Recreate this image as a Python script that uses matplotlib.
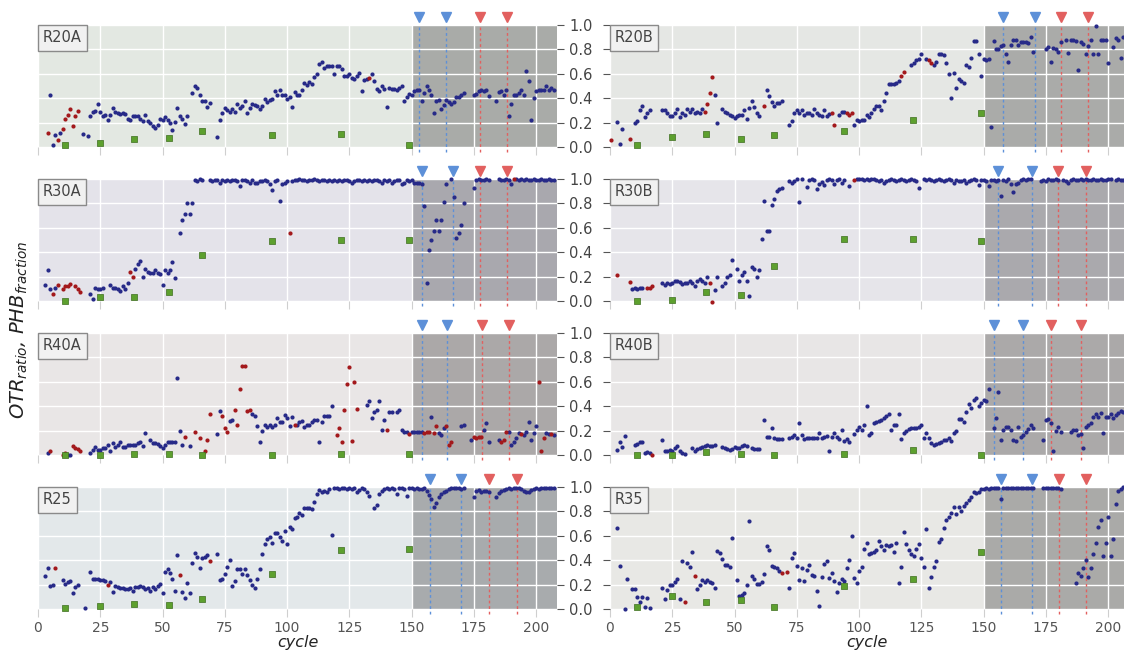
import numpy as np
import matplotlib
matplotlib.use('Agg')
import matplotlib.pyplot as plt

N = None

# ---------------- data (OTR ratio, one value per cycle starting at cycle 1) -------------
r20a_otr = [
    N, N, N, N, .43, .02, .095, N, .115, N,
    N, N, N, N, N, N, N, .11, N, .09,
    .25, .29, .295, .35, .29, .255, .265, .22, .26, .32,
    .285, .28, .27, .275, .27, .23, .225, .25, .255, .25,
    .23, .215, .26, .215, .2, .17, .155, .18, .23, .225,
    .245, .225, .2, .14, .205, .32, .255, .23, .185, .255,
    N, .44, .5, .485, .43, .375, .375, .33, .36, N,
    N, .08, .225, .28, .32, .305, .29, .315, .285, .35,
    .32, .34, .38, .28, .32, .35, .345, .335, .315, .335,
    .39, .365, .385, .395, .455, .425, .47, .425, .425, .39,
    .41, .33, .45, .425, .425, .47, .525, .505, .535, .515,
    .575, .6, .68, .695, .65, .66, .66, .665, .595, .665,
    .665, .64, .58, .58, .595, .565, .555, .58, .61, .46,
    .55, .555, N, .595, .54, .475, .46, .5, .475, .33,
    .48, .475, .475, .47, .48, .5, .375, .41, .435, .43,
    .46, .465, .47, .38, .445, .5, .465, .425, .28, .375,
    .385, .31, .345, .385, .37, .35, .37, .41, .41, .43,
    .44, N, N, N, .425, .435, .46, .465, .46, .465,
    .42, N, N, .38, .45, .46, .425, .47, .255, .35,
    .43, .43, .445, .47, .43, .62, .54, .225, .405, .46,
    .465, .465, .465, .5, .465, .48, .465]
r20a_red_x = [4, 8, 10, 11, 12, 13, 14, 15, 16, 133]
r20a_red_y = [.115, .06, .15, .23, .265, .31, .175, .25, .295, .565]
r20a_phb = [.02, .03, .065, .075, .135, .1, .11, .02]

r20b_otr = [
    N, N, .205, .027, .145, N, N, N, N, .2,
    .21, .305, .34, .245, .28, .3, N, N, N, N,
    .305, .305, .28, .25, .25, .28, .31, .245, .275, .26,
    .315, .285, .315, .275, .285, .28, .315, N, N, N,
    N, .43, .2, N, .31, .285, .275, .26, .25, .24,
    .25, .26, .265, .305, .23, .32, .38, .33, .275, .25,
    N, N, .465, .415, .37, .335, .36, .36, .375, N,
    N, .18, .215, .275, .3, .275, .305, .26, .275, .28,
    .265, .31, .28, .26, .25, .305, .255, .27, N, N,
    N, .265, .29, .29, N, N, N, .18, .225, .215,
    .225, .22, .26, .245, .28, .31, .34, .335, .3, .38,
    .44, .52, .515, .52, .525, .54, N, N, N, N,
    .675, .69, .71, .725, .76, N, .72, N, N, .67,
    .695, .76, .765, .75, .685, .595, .405, .605, .48, .555,
    .545, .525, .675, .655, .73, .87, .865, .76, .585, .725,
    .715, .725, .165, .865, .805, .805, .825, .84, .76, .695,
    .84, .875, .875, .84, .86, .86, .86, .855, .9, .78,
    N, N, N, N, .805, .82, .7, .81, .805, .78,
    .86, N, .88, .77, .88, .875, .87, .635, .86, .845,
    .765, .825, .875, .765, .995, .765, .875, .875, .875, .685,
    N, .82, .895, .875, .73, .9]
r20b_red_x = [0.3, 8, 38, 39, 40, 41, 62, 89, 90, 95, 96, 97, 117, 118, 128, 129]
r20b_red_y = [.055, .065, .29, .35, .44, .575, .34, .28, .18, .28, .26, .28, .58, .615, .71, .69]
r20b_phb = [.015, .085, .105, .065, .095, .135, .225, .28]

r30a_otr = [
    N, N, .13, .25, .1, N, .11, N, N, N,
    N, N, N, N, N, N, N, N, N, N,
    .06, .02, .11, .1, .1, .11, N, N, .13, .11,
    .11, .1, .08, .12, .1, .145, N, N, .26, .3,
    .33, .2, .26, .24, .23, .23, .25, .23, .22, .13,
    .25, .23, .25, .32, .19, N, .56, .66, .71, .8,
    .71, .8, .99, .98, 1.0, .99, N, N, .99, .98,
    .99, .99, .97, .99, .98, .99, .98, .99, .99, .98,
    .94, .99, .99, .98, .97, .99, .97, .97, .98, .98,
    .99, .98, .96, .91, .98, .99, .82, .96, .97, .98,
    N, .98, .99, .99, 1.0, .99, .99, .98, .99, .99,
    1.0, .99, .98, .99, .99, .98, .99, .98, .99, .98,
    .99, .98, .99, .99, .98, .97, .98, .99, .99, .98,
    .99, .98, .99, .98, .99, .99, .98, .97, .99, .98,
    .99, .97, .98, .99, .99, .96, .97, .99, .98, .99,
    .97, .97, .97, .96, .78, .15, .42, .5, .57, .66,
    .575, .66, .81, .96, N, 1.0, .855, .52, .56, .62,
    .8, N, N, N, .93, .99, 1.0, .99, .99, 1.0,
    .99, N, N, N, 1.0, .99, .99, 1.0, .99, .96,
    N, 1.0, .99, 1.0, .99, 1.0, .99, .99, 1.0, .99,
    .99, 1.0, .99, .99, 1.0, .99, .99]
r30a_red_x = [6, 8, 10, 11, 12, 13, 15, 16, 17, 37, 38, 101, 191]
r30a_red_y = [.06, .13, .1, .12, .12, .14, .12, .1, .07, .235, .2, .56, 1.0]
r30a_phb = [0.0, .035, .03, .07, .375, .49, .5, .5]

r30b_otr = [
    N, N, N, N, N, N, N, N, .1, .105,
    .095, .105, .11, N, N, N, N, N, N, N,
    .145, .13, .15, .14, .15, .16, .165, .155, .14, .145,
    .145, .16, .15, .12, .16, .18, .165, .15, .195, N,
    N, .09, .195, N, .12, .145, .195, .215, .34, N,
    .265, .165, .215, .24, .165, .04, .275, .26, .195, .255,
    .51, .82, .57, .575, .79, .84, .9, .915, .93, N,
    N, .98, .97, .985, 1.0, .81, 1.0, N, .935, .99,
    1.0, .99, .92, .96, .975, .95, .99, 1.0, .99, .96,
    .99, 1.0, .97, .99, N, .94, N, N, 1.0, 1.0,
    1.0, .99, 1.0, .99, 1.0, 1.0, .99, .98, .99, .97,
    .98, .99, 1.0, .99, .98, .99, 1.0, .99, .98, .99,
    1.0, .99, .98, .93, N, 1.0, .99, 1.0, .99, .98,
    .99, 1.0, .99, .98, .99, 1.0, .99, .97, .99, .98,
    .98, .99, .97, .98, .99, 1.0, .99, .95, .99, .99,
    .98, .94, .99, .99, .98, .99, .86, .99, .98, 1.0,
    .96, .89, .96, .97, .99, 1.0, .99, 1.0, 1.0, N,
    N, N, .98, .99, .98, 1.0, .99, .99, 1.0, .99,
    N, .99, .98, .97, .99, 1.0, .99, .99, 1.0, .99,
    1.0, .99, .99, 1.0, .99, .99, 1.0, .99, .99, 1.0,
    1.0, N, .99, 1.0, .99, .99]
r30b_red_x = [3, 8, 15, 16, 17, 40, 41, 98]
r30b_red_y = [.215, .155, .105, .105, .12, .145, -.005, .99]
r30b_phb = [0.0, .01, .075, .05, .285, .505, .505, .495]

r40a_otr = [
    N, N, N, .02, N, N, N, N, N, N,
    N, 0.0, 0.0, N, N, N, N, N, N, N,
    .02, .045, .065, .045, .045, .055, .06, .085, .035, .1,
    .065, .085, .11, .065, .065, .085, .085, .085, .085, .095,
    .105, .075, .18, N, .12, .1, .1, .09, .075, .06,
    .085, .11, .105, .11, .105, .635, .2, .08, N, N,
    .07, N, N, N, N, N, N, N, N, N,
    N, .17, .36, N, N, N, .28, .29, N, N,
    N, N, N, N, N, .34, .32, .24, .105, .2,
    .245, .23, .245, .23, .25, .3, .27, .27, .325, .305,
    .24, .31, N, .25, .27, .28, .23, .245, .25, .27,
    .285, .29, .11, .27, .32, .32, .32, .4, N, N,
    N, N, N, N, N, N, N, N, N, N,
    N, .41, .445, .305, .355, .367, .44, .205, .285, N,
    .355, .355, N, .355, .367, .205, .19, .185, N, .19,
    .185, .185, .19, .185, N, N, N, .315, N, N,
    .18, .16, .22, N, N, N, N, N, N, .24,
    .245, N, N, .125, N, N, N, N, .205, .26,
    .105, N, N, N, .125, N, N, N, .19, .085,
    .11, .14, .18, N, .165, .19, .27, .125, .18, .235,
    N, N, N, .18, .175, N, .165]
r40a_red_x = [1, 5, 10, 11, 14, 15, 16, 17, 59, 63, 65, 67, 68, 69, 74, 75, 76, 79, 80,
              81, 82, 83, 84, 85, 103, 120, 121, 122, 123, 124, 125, 126, 127, 128, 140,
              149, 155, 156, 157, 159, 160, 164, 165, 166, 175, 176, 177, 178, 186, 187,
              188, 194, 201, 202, 203, 206]
r40a_red_y = [.895, .035, 0.0, .02, .075, .06, .05, .035, .145, .19, .14, .035, .12, .335,
              .32, .225, .19, .367, .25, .54, .73, .73, .36, .367, .245, .16, .22, .105,
              .37, .58, .725, .115, .595, .38, .205, .175, .18, .185, .19, .18, .24, .235,
              .08, .11, .145, .14, .145, .15, .105, .125, .185, .17, .6, .035, .14, .17]
r40a_phb = [0.0, 0.0, .008, .008, 0.0, 0.0, .008, .008]

r40b_otr = [
    N, N, .04, .11, .068, .155, N, N, N, .08,
    .09, .105, .11, .015, .025, .015, N, N, N, N,
    .12, .03, .03, .045, .035, .055, .07, .035, .02, .008,
    N, N, .06, .03, .05, .055, .068, .07, .078, .075,
    .075, .078, N, N, .062, .057, .05, .043, .049, .062,
    .057, .057, .07, .084, .07, N, .057, .05, .05, .05,
    N, .285, .145, .145, .225, .138, .132, .132, .132, N,
    N, .138, .145, .16, .143, .26, .16, .132, .143, .138,
    .138, .138, .143, .178, .138, .15, .157, .035, .15, .178,
    .15, .132, .205, .116, .132, .105, N, .17, .205, .227,
    .205, .25, .4, .16, .178, .26, .273, .278, .286, .3,
    .32, .332, .203, .25, .25, .332, .13, .178, .197, .21,
    .219, .219, .224, .232, .246, .143, .178, .138, .097, .084,
    .089, .095, .105, .119, .124, .138, .116, .178, .197, .295,
    .295, .268, .354, .42, .386, .449, .468, .4, .43, .449,
    .44, .54, N, .22, .3, .515, .124, .205, .23, .23,
    .205, .119, .116, .23, .15, .165, .192, .21, .25, .224,
    N, N, N, .119, .286, .295, .26, .03, .197, .232,
    .186, N, N, N, .186, .205, .205, .165, .17, .057,
    .232, .246, .26, .314, .332, .314, .346, .178, .314, .314,
    .332, .3, .327, .346, .36, .35]
r40b_red_x = [17]
r40b_red_y = [.003]
r40b_phb = [0.0, 0.0, .025, .008, 0.0, .008, .043, 0.0]

r25_otr = [
    N, N, .27, .34, .19, .2, N, N, N, .24,
    .205, .225, .23, .13, .18, .195, N, N, .005, N,
    .305, .245, .245, .25, .24, .235, .23, N, .22, .14,
    .19, .18, .17, .175, .165, .16, .17, .15, .18, .18,
    .185, .18, .165, .17, .15, .18, .165, .185, .205, .13,
    .305, .325, .295, .25, .15, .44, N, .14, .09, .21,
    .135, .375, .46, .425, .335, .415, .43, .44, N, N,
    N, .45, .24, .245, .29, .345, .4, .19, .23, .325,
    .325, .29, .325, .275, .24, .195, .175, .245, .33, .45,
    .53, .575, .59, .54, .62, .625, .59, .56, .64, .53,
    .675, .655, .75, .755, .785, .77, .825, .83, .825, .82,
    .88, .94, .975, .96, .97, .955, .98, .605, .99, .995,
    .98, .99, .995, .985, .99, .98, .99, .96, .975, .99,
    .985, .955, .93, N, .83, .855, .94, .97, .98, .99,
    .985, .99, .98, .945, .99, .995, .98, .93, .99, .995,
    .98, .99, .985, .98, .99, .97, .935, .9, .84, .865,
    .92, .94, .96, .97, .985, .99, .995, .99, .995, .98,
    .99, N, N, N, .915, .97, .975, .96, .97, .965,
    .96, N, N, .915, .95, .97, .975, .98, .99, .985,
    .99, .995, .99, .98, .97, .955, .96, .975, .98, .99,
    .985, .99, .99, .995, .99, .995, .99]
r25_red_x = [7, 28, 57, 69]
r25_red_y = [.335, .2, .28, .395]
r25_phb = [.01, .025, .045, .035, .085, .285, .485, .49]

r35_otr = [
    N, N, .665, .35, N, 0.0, .245, N, .16, .165,
    .095, .06, .1, .015, .09, .005, N, N, N, N,
    .17, .08, .155, .195, .195, .225, .245, .08, .395, N,
    .373, .345, .465, N, .168, .197, .238, .222, .238, .222,
    .21, .17, .476, .46, .413, .36, .36, .346, .584, N,
    .238, .103, .116, .135, .197, .72, .27, .249, .205, .205,
    .224, .284, .519, .481, .351, .346, .332, .314, N, N,
    N, .17, .422, .459, .354, .238, .332, .232, .319, .359,
    .278, .27, .151, .022, .265, .365, .395, .251, .292, .232,
    .143, .211, .243, .23, .332, .405, .595, .251, .216, .314,
    .341, .495, .541, .454, .459, .468, .481, .554, .514, .486,
    .522, .514, .522, .468, .541, .211, .346, .635, .535, .486,
    .449, .432, .495, .53, .414, .346, .657, .17, .265, .341,
    .392, .549, .576, .662, .732, .751, .784, .832, .778, .838,
    .8, .846, .865, .892, .919, .962, .954, .962, .981, .98,
    .99, .985, .99, .995, .99, .995, .9, .99, .995, .99,
    .995, .99, .995, .99, .995, .99, .995, .99, .995, .99,
    N, N, N, .99, .995, .99, .99, .995, .99, .99,
    .985, N, N, N, N, N, .216, .292, .27, .332,
    .4, .26, .332, .449, .541, .676, .73, .432, .541, .751,
    .432, .576, .859, .968, .981, 1.0]
r35_red_x = [30, 34, 69, 71]
r35_red_y = [.06, .27, .292, .303]
r35_phb = [.014, .11, .054, .07, .014, .19, .249, .468]

phb_cycles = [11, 25, 38.5, 52.5, 66, 94, 121.5, 149]

names = ['R20A', 'R20B', 'R30A', 'R30B', 'R40A', 'R40B', 'R25', 'R35']
blue_events = [[153, 164], [158, 170.5], [154.3, 166.7], [156, 169.3],
               [154, 164.4], [154, 166], [157.4, 170], [157, 169.4]]
red_events = [[177.5, 188.5], [181, 192], [177.3, 188.3], [179.8, 191],
              [178.2, 189], [177, 189], [181.2, 192.2], [180.4, 191.3]]
yticks = [0.0, 0.2, 0.4, 0.6, 0.8, 1.0]
xticks = [0, 25, 50, 75, 100, 125, 150, 175, 200]

otr_all = [r20a_otr, r20b_otr, r30a_otr, r30b_otr, r40a_otr, r40b_otr, r25_otr, r35_otr]
red_x_all = [r20a_red_x, r20b_red_x, r30a_red_x, r30b_red_x, r40a_red_x, r40b_red_x, r25_red_x, r35_red_x]
red_y_all = [r20a_red_y, r20b_red_y, r30a_red_y, r30b_red_y, r40a_red_y, r40b_red_y, r25_red_y, r35_red_y]
phb_all = [r20a_phb, r20b_phb, r30a_phb, r30b_phb, r40a_phb, r40b_phb, r25_phb, r35_phb]

# ---------------- styling ----------------
bg_colors = ['#e3e8e2', '#e5e7e4', '#e4e3ea', '#e6e5ea', '#e9e6e6', '#e8e6e6', '#e3e8ea', '#e8e8e5']
shade_colors = ['#a9aba8', '#aaaba9', '#a9a8ae', '#aaa9ad', '#aba8a8', '#aba9a9', '#a8abad', '#aaaaa8']
BLUE = '#272a88'
RED = '#a3191c'
GREEN = '#5da02e'
EV_BLUE = '#5d90d8'
EV_RED = '#e2605f'

plt.rcParams['font.family'] = ['DejaVu Sans']

W, H = 1124, 655
fig = plt.figure(figsize=(W / 100, H / 100), dpi=100)
col_left = [38, 610]
col_width = [519, 514]
col_xmax = [208.4, 206.4]
row_top = [25, 179, 333, 487]
ph = 122

for i, name in enumerate(names):
    r, c = divmod(i, 2)
    ax = fig.add_axes([col_left[c] / W, 1 - (row_top[r] + ph) / H, col_width[c] / W, ph / H])
    ax.set_facecolor(bg_colors[i])
    ax.set_xlim(0, col_xmax[c])
    ax.set_ylim(0, 1.0)
    ax.axvspan(150, col_xmax[c], color=shade_colors[i], lw=0, zorder=0.3)
    ax.set_axisbelow(True)
    ax.grid(True, color='white', lw=1.0)
    for s in ax.spines.values():
        s.set_visible(False)
    ax.set_xticks(xticks)
    ax.set_yticks(yticks)
    ax.tick_params(axis='x', length=6, color='#cfcfcf', labelsize=10, labelcolor='#555555', pad=3)
    if r < 3:
        ax.tick_params(axis='x', labelbottom=False)
    else:
        ax.set_xlabel('cycle', style='italic', fontsize=11.5, color='#222222', labelpad=0)
    if c == 0:
        ax.yaxis.tick_right()
        ax.tick_params(axis='y', length=5, color='#555555', labelsize=10.5, labelcolor='#444444', pad=4)
        ax.set_yticklabels(['%.1f' % v for v in yticks])
    else:
        ax.yaxis.tick_left()
        ax.tick_params(axis='y', length=5, color='#555555', labelleft=False)

    # event markers
    for ev in blue_events[i]:
        ax.plot([ev, ev], [-0.045, 1.0], ls=(0, (2, 2)), color=EV_BLUE, lw=1.0, clip_on=False, zorder=2)
        ax.plot([ev], [1.065], marker='v', color=EV_BLUE, ms=6.5, mec=EV_BLUE, clip_on=False, zorder=3)
    for ev in red_events[i]:
        ax.plot([ev, ev], [-0.045, 1.0], ls=(0, (2, 2)), color=EV_RED, lw=1.0, clip_on=False, zorder=2)
        ax.plot([ev], [1.065], marker='v', color=EV_RED, ms=6.5, mec=EV_RED, clip_on=False, zorder=3)

    y = np.array([np.nan if v is None else v for v in otr_all[i]], dtype=float)
    x = np.arange(1, len(y) + 1)
    ok = np.isfinite(y)
    ax.scatter(x[ok], y[ok], s=9, color=BLUE, lw=0, zorder=4, clip_on=False)
    ax.scatter(red_x_all[i], red_y_all[i], s=9, color=RED, lw=0, zorder=5, clip_on=False)
    ax.scatter(phb_cycles, phb_all[i], s=16, marker='s', color=GREEN, edgecolor='#3d6e1e',
               lw=0.5, zorder=5, clip_on=False)

    ax.text(0.009, 0.955, name, transform=ax.transAxes, ha='left', va='top', fontsize=10.5,
            color='#444444', zorder=6,
            bbox=dict(boxstyle='square,pad=0.35', fc='#f1f1f1', ec='#8a8a8a', lw=1.0))

fig.text(0.017, 0.497, r'$OTR_{ratio}$, $PHB_{fraction}$', rotation=90, ha='center', va='center',
         fontsize=14, color='#222222', style='italic')

fig.savefig('out.png', dpi=100)
